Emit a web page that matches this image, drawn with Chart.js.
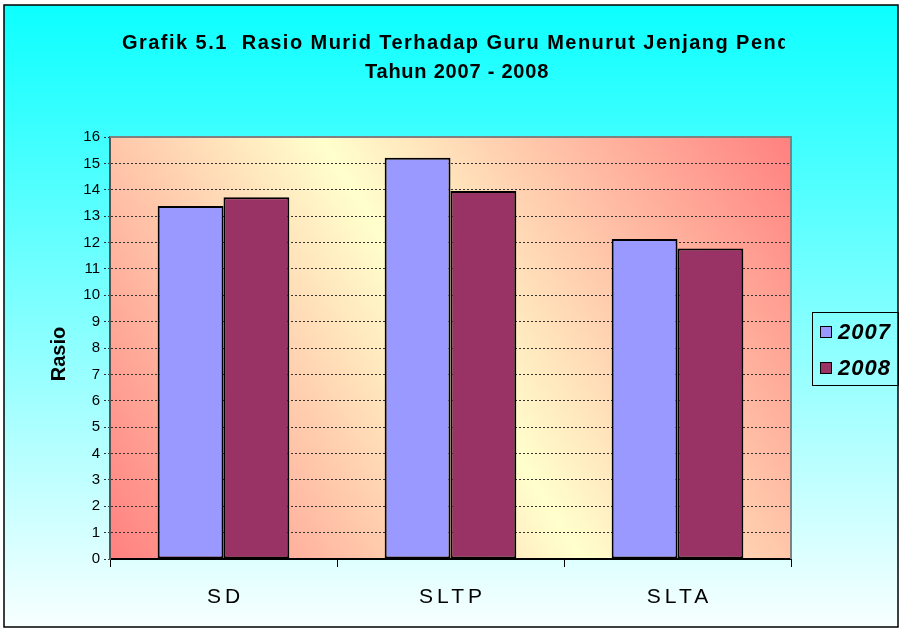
<!DOCTYPE html>
<html>
<head>
<meta charset="utf-8">
<script src="https://cdn.jsdelivr.net/npm/chart.js@4.4.0/dist/chart.umd.min.js"></script>
<style>
  body { margin: 0; background: #fff; }
  canvas { display: block; }
</style>
</head>
<body>
<canvas id="myChart" width="902" height="630"></canvas>
<script>
// data
const categories = ['SD', 'SLTP', 'SLTA'];
const seriesNames = ['2007', '2008'];
const values2007 = [13.38, 15.21, 12.13];
const values2008 = [13.72, 13.95, 11.77];
const seriesColors = ['#9999FF', '#993366'];
const yMin = 0;
const yMax = 16;
const yStep = 1;
const titleLines = ['Grafik 5.1  Rasio Murid Terhadap Guru Menurut Jenjang Pendidikan', 'Tahun 2007 - 2008'];
const yTitle = 'Rasio';

const FONT = "'Liberation Sans', Arial, sans-serif";

// spread text so that `part` of it spans `target` px
function spacingFor(ctx, part, target) {
    ctx.letterSpacing = '0px';
    const sp = Math.max(0, (target - ctx.measureText(part).width) / part.length);
    return sp.toFixed(2) + 'px';
}

// backgrounds behind the chart
const backdrop = {
    id: 'backdrop',
    beforeDraw(chart) {
        const { ctx, chartArea: a } = chart;
        ctx.save();
        ctx.fillStyle = '#fff';
        ctx.fillRect(0, 0, chart.width, chart.height);
        const g = ctx.createLinearGradient(0, 5, 0, 627);
        g.addColorStop(0, '#0CFFFF');
        g.addColorStop(1, '#F8FFFF');
        ctx.fillStyle = g;
        ctx.fillRect(4, 5, 894, 622);
        ctx.strokeStyle = '#000';
        ctx.lineWidth = 1.5;
        ctx.strokeRect(4, 5, 894, 622);

        // plot area: red corners top-right / bottom-left, yellow diagonal
        const p = ctx.createLinearGradient(a.left, a.bottom, a.right, a.top);
        p.addColorStop(0, '#FF8080');
        p.addColorStop(0.5, '#FFFFCC');
        p.addColorStop(1, '#FF8080');
        ctx.fillStyle = p;
        ctx.fillRect(a.left, a.top, a.right - a.left, a.bottom - a.top);
        ctx.restore();
    },
    afterDraw(chart) {
        const { ctx, chartArea: a } = chart;
        ctx.save();
        // plot area frame (top / right)
        ctx.strokeStyle = '#808080';
        ctx.lineWidth = 2;
        ctx.beginPath();
        ctx.moveTo(a.left, a.top);
        ctx.lineTo(a.right, a.top);
        ctx.lineTo(a.right, a.bottom);
        ctx.stroke();

        // title, clipped like the original (visible part runs just past "Pen")
        ctx.fillStyle = '#000';
        ctx.textBaseline = 'middle';
        ctx.font = 'bold 20px ' + FONT;
        const shown = titleLines[0].slice(0, titleLines[0].indexOf('Pen') + 3);
        ctx.letterSpacing = spacingFor(ctx, shown, 655);
        ctx.save();
        ctx.beginPath();
        ctx.rect(0, 0, 785, 120);
        ctx.clip();
        ctx.textAlign = 'left';
        ctx.fillText(titleLines[0], 122, 43);
        ctx.restore();
        ctx.textAlign = 'center';
        ctx.letterSpacing = spacingFor(ctx, titleLines[1], 184);
        ctx.fillText(titleLines[1], 457, 72);

        // category labels
        const xs = chart.scales.x;
        ctx.font = '21px ' + FONT;
        ctx.letterSpacing = '4px';
        categories.forEach((c, i) => {
            ctx.fillText(c, xs.getPixelForValue(i) + 2, 597);
        });

        // y axis title
        ctx.letterSpacing = '0px';
        ctx.font = 'bold 20px ' + FONT;
        ctx.translate(59, 354);
        ctx.rotate(-Math.PI / 2);
        ctx.fillText(yTitle, 0, 0);
        ctx.restore();

        // legend box
        ctx.save();
        ctx.strokeStyle = '#000';
        ctx.lineWidth = 1;
        ctx.strokeRect(812.5, 312.5, 86, 73);
        ctx.font = 'italic bold 22px ' + FONT;
        ctx.letterSpacing = '1px';
        ctx.textBaseline = 'middle';
        seriesNames.forEach((n, i) => {
            const y = 332 + i * 36;
            ctx.fillStyle = seriesColors[i];
            ctx.fillRect(820, y - 6, 12, 12);
            ctx.strokeStyle = '#000';
            ctx.strokeRect(820.5, y - 5.5, 11, 11);
            ctx.fillStyle = '#000';
            ctx.fillText(n, 838, y + 1);
        });
        ctx.restore();
    }
};

const ctx = document.getElementById('myChart').getContext('2d');
const myChart = new Chart(ctx, {
    type: 'bar',
    data: {
        labels: categories,
        datasets: [
            { label: seriesNames[0], data: values2007, backgroundColor: seriesColors[0] },
            { label: seriesNames[1], data: values2008, backgroundColor: seriesColors[1] }
        ].map(d => Object.assign(d, {
            borderColor: '#000',
            borderWidth: 2,
            borderSkipped: false,
            categoryPercentage: 0.58,
            barPercentage: 1.0
        }))
    },
    options: {
        responsive: false,
        animation: false,
        layout: { padding: { top: 137, right: 111, bottom: 0, left: 0 } },
        plugins: {
            legend: { display: false },
            title: { display: false },
            tooltip: { enabled: false }
        },
        scales: {
            x: {
                afterFit: s => { s.height = 71; },
                grid: {
                    offset: true,
                    drawOnChartArea: false,
                    tickLength: 8,
                    tickColor: '#000',
                    tickWidth: 1
                },
                border: { color: '#000', width: 2 },
                ticks: { color: 'rgba(0,0,0,0)', font: { size: 21, family: FONT } }
            },
            y: {
                min: yMin,
                max: yMax,
                afterFit: s => { s.width = 110; },
                ticks: {
                    stepSize: yStep,
                    color: '#000',
                    padding: 4,
                    font: { size: 15, family: FONT }
                },
                grid: {
                    color: c => (c.tick && (c.tick.value === yMax || c.tick.value === yMin)) ? 'rgba(0,0,0,0)' : '#333',
                    lineWidth: 1,
                    tickLength: 6,
                    tickColor: '#333',
                    tickBorderDash: [2, 2]
                },
                border: { color: '#555', width: 2, dash: [2, 2] }
            }
        }
    },
    plugins: [backdrop]
});
</script>
</body>
</html>
